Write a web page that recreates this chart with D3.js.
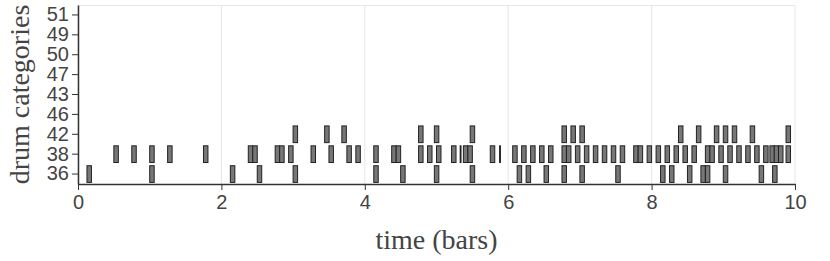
<!DOCTYPE html>
<html>
<head>
<meta charset="utf-8">
<script src="https://cdn.jsdelivr.net/npm/d3@7"></script>
<style>
  html, body { margin: 0; padding: 0; background: #fff; }
  svg { display: block; }
</style>
</head>
<body>
<svg id="chart" width="830" height="261"></svg>
<script>
// ---- data ----
const categories = ["36", "38", "42", "46", "43", "47", "50", "49", "51"];
const xTickValues = [0, 2, 4, 6, 8, 10];
const noteLength = 0.0625;
const shortNoteLength = 0.012;

const onsets36 = [0.125, 1.0, 2.125, 2.5, 3.0, 4.125, 4.5, 4.97, 5.47, 6.125, 6.25, 6.5, 6.75, 7.0, 7.5,
  8.125, 8.25, 8.5, 8.6875, 8.75, 9.0, 9.5, 9.6875];
const onsets38 = [0.5, 0.75, 1.0, 1.25, 1.75, 2.375, 2.4375, 2.75, 2.8125, 2.9375, 3.25, 3.5, 3.75, 3.875,
  4.125, 4.375, 4.4375, 4.75, 4.875, 5.0, 5.21, 5.375, 5.4375, 5.75,
  6.0625, 6.1875, 6.3125, 6.4375, 6.5625, 6.75, 6.8125, 6.9375, 7.0625, 7.1875, 7.3125, 7.4375, 7.5625,
  7.75, 7.8125, 7.9375, 8.0625, 8.1875, 8.3125, 8.4375, 8.5625, 8.75, 8.8125, 8.9375, 9.0625, 9.1875,
  9.3125, 9.4375, 9.5625, 9.65, 9.71, 9.77, 9.875];
const shortOnsets38 = [5.33, 5.88];
const onsets42 = [3.0, 3.44, 3.68, 4.75, 4.97, 5.47, 6.75, 6.875, 7.0, 8.375, 8.625, 8.875, 9.0, 9.125,
  9.375, 9.875];

// build note table
const notes = [];
onsets36.forEach(t => notes.push({cat: "36", t, d: noteLength}));
onsets38.forEach(t => notes.push({cat: "38", t, d: noteLength}));
shortOnsets38.forEach(t => notes.push({cat: "38", t, d: shortNoteLength}));
onsets42.forEach(t => notes.push({cat: "42", t, d: noteLength}));

// ---- layout ----
const W = 830, H = 261;
const margin = {top: 5, right: 35, bottom: 77, left: 78};
const iw = W - margin.left - margin.right;
const ih = H - margin.top - margin.bottom;

const svg = d3.select("#chart");
const g = svg.append("g").attr("transform", `translate(${margin.left},${margin.top})`);

const x = d3.scaleLinear().domain([0, 10]).range([0, iw]);
const y = d3.scaleBand().domain(categories).range([ih, 0]).paddingInner(0.16).paddingOuter(0.08);

// grid
g.append("g").selectAll("line.vg").data(xTickValues).join("line")
  .attr("x1", d => x(d)).attr("x2", d => x(d))
  .attr("y1", 0).attr("y2", ih)
  .attr("stroke", "#e6e6e6").attr("stroke-width", 1);
g.append("line").attr("x1", 0).attr("x2", iw).attr("y1", 0.5).attr("y2", 0.5)
  .attr("stroke", "#e6e6e6").attr("stroke-width", 1);

// notes
g.append("g").selectAll("rect").data(notes).join("rect")
  .attr("x", d => x(d.t))
  .attr("width", d => Math.max(0.5, x(d.t + d.d) - x(d.t)))
  .attr("y", d => y(d.cat))
  .attr("height", y.bandwidth())
  .attr("fill", "#777")
  .attr("stroke", "#222")
  .attr("stroke-width", 1);

// axes
const fontSans = "'Liberation Sans', Arial, Helvetica, sans-serif";
const xAxis = g.append("g").attr("transform", `translate(0,${ih})`)
  .call(d3.axisBottom(x).tickValues(xTickValues).tickFormat(d3.format("d")).tickSize(6).tickSizeOuter(0));
const yAxis = g.append("g")
  .call(d3.axisLeft(y).tickSize(6).tickSizeOuter(0));

[xAxis, yAxis].forEach(a => {
  a.select(".domain").attr("stroke", "#333").attr("stroke-width", 1.5);
  a.selectAll(".tick line").attr("stroke", "#333");
  a.selectAll(".tick text").attr("fill", "#444").style("font-family", fontSans).style("font-size", "20px");
});
xAxis.selectAll(".tick text").attr("dy", "0.8em");
yAxis.selectAll(".tick text").attr("x", -9);

// titles
const fontSerif = "'Liberation Serif', 'Times New Roman', Times, serif";
svg.append("text")
  .attr("x", margin.left + iw / 2).attr("y", 249)
  .attr("text-anchor", "middle")
  .attr("fill", "#444")
  .style("font-family", fontSerif).style("font-size", "28px")
  .text("time (bars)");
svg.append("text")
  .attr("transform", `translate(29,${margin.top + ih / 2}) rotate(-90)`)
  .attr("text-anchor", "middle")
  .attr("fill", "#444")
  .style("font-family", fontSerif).style("font-size", "28px")
  .text("drum categories");
</script>
</body>
</html>
